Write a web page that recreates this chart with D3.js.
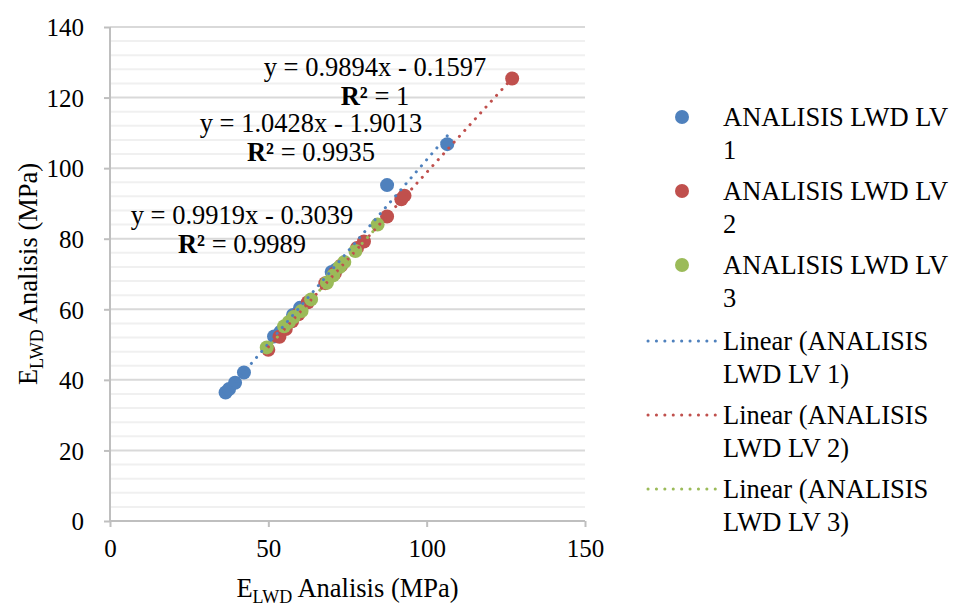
<!doctype html>
<html>
<head>
<meta charset="utf-8">
<script src="https://d3js.org/d3.v7.min.js"></script>
<style>
  body { margin: 0; background: #fff; }
  text { font-family: "Liberation Serif", "Times New Roman", serif; fill: #000; }
</style>
</head>
<body>
<script>
// data
var seriesNames = ['ANALISIS LWD LV 1', 'ANALISIS LWD LV 2', 'ANALISIS LWD LV 3'];
var seriesColors = ['#4f81bd', '#c0504d', '#9bbb59'];

var lv1 = [[36.5, 36.4], [37.6, 37.4], [39.5, 39.2], [42.3, 42.1], [51.8, 52.3], [53.8, 53.6],
           [57.8, 58.4], [60, 60.4], [70, 70.6], [71.5, 71.3], [87.5, 95.2], [106.5, 106.8]];
var lv2 = [[50, 48.5], [53.5, 52.2], [55.5, 54.4], [57.5, 56.6], [59.5, 58.6], [62.5, 62],
           [68, 67.4], [71, 70.2], [73, 72.4], [78, 77.4], [80.2, 79.2], [87.5, 86.3],
           [92, 91.2], [93, 92.2], [127, 125.4]];
var lv3 = [[49.5, 49.2], [55, 55.2], [56.5, 56.4], [58, 57.8], [60.5, 59.5], [63.5, 62.8],
           [68.5, 67.5], [70.5, 69.6], [72.5, 72], [74, 73.4], [77.5, 76.5], [84.5, 84]];

// trendline per series (LV1, LV2, LV3)
var slopes = [1.0428, 0.9894, 0.9919];
var intercepts = [-1.9013, -0.1597, -0.3039];
var eqText = ['y = 1.0428x - 1.9013', 'y = 0.9894x - 0.1597', 'y = 0.9919x - 0.3039'];
var r2Text = ['0.9935', '1', '0.9989'];

var xTicks = [0, 50, 100, 150];
var yTicks = [0, 20, 40, 60, 80, 100, 120, 140];

var allSeries = [lv1, lv2, lv3];

// canvas
var width = 957, height = 607;
var plotLeft = 110, plotRight = 585, plotTop = 27, plotBottom = 521;
var bigFont = '26.5px';

var svg = d3.select('body').append('svg')
    .attr('width', width)
    .attr('height', height);

var xScale = d3.scaleLinear().domain([0, 150]).range([plotLeft, plotRight]);
var yScale = d3.scaleLinear().domain([0, 140]).range([plotBottom, plotTop]);

// minor gridlines every 4
svg.append('g')
    .selectAll('line')
    .data(d3.range(4, 140, 4).filter(function(v) { return v % 20 !== 0; }))
    .enter().append('line')
    .attr('x1', plotLeft).attr('x2', plotRight)
    .attr('y1', function(d) { return yScale(d); })
    .attr('y2', function(d) { return yScale(d); })
    .attr('stroke', '#f0f0f0')
    .attr('stroke-width', 2);

// major gridlines
svg.append('g')
    .selectAll('line')
    .data(yTicks.slice(1))
    .enter().append('line')
    .attr('x1', plotLeft).attr('x2', plotRight)
    .attr('y1', function(d) { return yScale(d); })
    .attr('y2', function(d) { return yScale(d); })
    .attr('stroke', '#d9d9d9')
    .attr('stroke-width', 2);

// axes
var xAxis = d3.axisBottom(xScale).tickValues(xTicks).tickSize(6).tickPadding(12);
var yAxis = d3.axisLeft(yScale).tickValues(yTicks).tickSize(6).tickPadding(20);

var gx = svg.append('g')
    .attr('transform', 'translate(0,' + plotBottom + ')')
    .call(xAxis);
var gy = svg.append('g')
    .attr('transform', 'translate(' + plotLeft + ',0)')
    .call(yAxis);

[gx, gy].forEach(function(g) {
  g.select('.domain').attr('stroke', '#bfbfbf').attr('stroke-width', 2);
  g.selectAll('.tick line').attr('stroke', '#bfbfbf').attr('stroke-width', 2);
  g.selectAll('.tick text')
    .style('font-family', '"Liberation Serif", "Times New Roman", serif')
    .style('font-size', '25px')
    .attr('fill', '#000');
});
gx.select('.domain').attr('d', 'M' + plotLeft + ',0H' + plotRight);
gy.select('.domain').attr('d', 'M0,' + plotTop + 'V' + plotBottom);
gx.selectAll('.tick text').attr('dy', '0.71em');
gy.selectAll('.tick text').attr('dy', '0.35em');

// points
allSeries.forEach(function(s, i) {
  svg.append('g')
    .selectAll('circle')
    .data(s)
    .enter().append('circle')
    .attr('cx', function(d) { return xScale(d[0]); })
    .attr('cy', function(d) { return yScale(d[1]); })
    .attr('r', 7)
    .attr('fill', seriesColors[i]);
});

// trendlines
allSeries.forEach(function(s, i) {
  var ext = d3.extent(s, function(d) { return d[0]; });
  var pts = ext.map(function(x) { return [x, slopes[i] * x + intercepts[i]]; });
  svg.append('path')
    .datum(pts)
    .attr('d', d3.line()
      .x(function(d) { return xScale(d[0]); })
      .y(function(d) { return yScale(d[1]); }))
    .attr('fill', 'none')
    .attr('stroke', seriesColors[i])
    .attr('stroke-width', 3)
    .attr('stroke-linecap', 'round')
    .attr('stroke-dasharray', '0.1,7.8');
});

// equation labels
var eqPos = [[311, 123], [375, 67], [242, 215]];
eqText.forEach(function(t, i) {
  var g = svg.append('g').attr('transform', 'translate(' + eqPos[i][0] + ',' + eqPos[i][1] + ')');
  g.append('text')
    .attr('text-anchor', 'middle')
    .attr('dy', '0.35em')
    .style('font-size', bigFont)
    .text(t);
  var r = g.append('text')
    .attr('text-anchor', 'middle')
    .attr('y', 29)
    .attr('dy', '0.35em')
    .style('font-size', bigFont);
  r.append('tspan').style('font-weight', 'bold').text('R²');
  r.append('tspan').text(' = ' + r2Text[i]);
});

// axis titles
function axisTitle(t) {
  t.style('font-size', bigFont).attr('text-anchor', 'middle');
  t.append('tspan').text('E');
  t.append('tspan').attr('dy', 6).style('font-size', '18px').text('LWD');
  t.append('tspan').attr('dy', -6).text(' Analisis (MPa)');
}
svg.append('text')
    .attr('x', (plotLeft + plotRight) / 2).attr('y', 597)
    .call(axisTitle);
svg.append('text')
    .attr('transform', 'translate(37,' + (plotTop + plotBottom) / 2 + ') rotate(-90)')
    .call(axisTitle);

// legend
var legendY = [117, 191, 265, 341, 415, 489];
var lineGap = 33;
var textX = 723;
seriesNames.forEach(function(name, i) {
  svg.append('circle')
    .attr('cx', 682).attr('cy', legendY[i])
    .attr('r', 7)
    .attr('fill', seriesColors[i]);
  var cut = name.lastIndexOf(' ');
  [name.slice(0, cut), name.slice(cut + 1)].forEach(function(p, j) {
    svg.append('text')
      .attr('x', textX).attr('y', legendY[i] + j * lineGap)
      .attr('dy', '0.35em')
      .style('font-size', bigFont)
      .text(p);
  });
});
seriesNames.forEach(function(name, i) {
  var y = legendY[i + 3];
  svg.append('line')
    .attr('x1', 648).attr('x2', 716)
    .attr('y1', y).attr('y2', y)
    .attr('stroke', seriesColors[i])
    .attr('stroke-width', 3)
    .attr('stroke-linecap', 'round')
    .attr('stroke-dasharray', '0.1,8.3');
  ['Linear (ANALISIS', name.replace('ANALISIS ', '') + ')'].forEach(function(p, j) {
    svg.append('text')
      .attr('x', textX).attr('y', y + j * lineGap)
      .attr('dy', '0.35em')
      .style('font-size', bigFont)
      .text(p);
  });
});
</script>
</body>
</html>
